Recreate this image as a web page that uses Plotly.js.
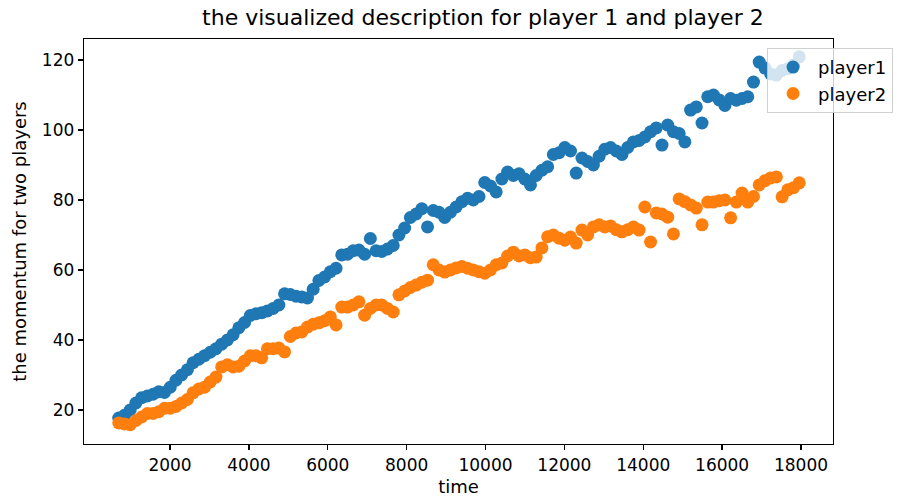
<!DOCTYPE html>
<html>
<head>
<meta charset="utf-8">
<script src="https://cdn.plot.ly/plotly-3.0.1.min.js"></script>
<style>html,body{margin:0;padding:0;background:#fff;}#chart{width:906px;height:502px;}</style>
</head>
<body>
<div id="chart"></div>
<script>
const time = [700,845,990,1135,1280,1425,1570,1715,1860,2005,2150,2295,2440,2585,2730,2875,3020,3165,3310,3455,3600,3745,3890,4035,4180,4325,4470,4615,4760,4905,5050,5195,5340,5485,5630,5775,5920,6065,6210,6355,6500,6645,6790,6935,7080,7225,7370,7515,7660,7805,7950,8095,8240,8385,8530,8675,8820,8965,9110,9255,9400,9545,9690,9835,9980,10125,10270,10415,10560,10705,10850,10995,11140,11285,11430,11575,11720,11865,12010,12155,12300,12445,12590,12735,12880,13025,13170,13315,13460,13605,13750,13895,14040,14185,14330,14475,14620,14765,14910,15055,15200,15345,15490,15635,15780,15925,16070,16215,16360,16505,16650,16795,16940,17085,17230,17375,17520,17665,17810,17955];

const player1 = [17.7,18.5,20,22,23.5,24,24.5,25.2,25,26.5,28.5,30,31.5,33.5,34.5,35.5,36.5,37.5,38.8,40,41.5,43.5,45,47,47.5,47.8,48.3,49,50,53.2,53,52.5,52.3,52,54.5,57,58,59.5,60.5,64.3,64.5,65.5,65.7,64.5,69,65.5,65.3,66,67,70,72,75,76,77.5,72.3,77,76.5,75,76.5,78,79.5,80.5,80,81,85,84,82.3,86,88,87,87.5,86,84.3,87,88.5,89.5,93,93.5,95,94,87.7,92,91,90,92.5,94.5,95,94,93,95,96.6,97,98,99.5,100.6,95.7,101.4,99.5,99,96.6,105.7,106.6,102,109.5,110,108.6,107,109,108.5,109,109.5,113.7,119.4,117.7,116,115.7,117,117.5,118.6,120.9];

const player2 = [16.3,16,15.8,17,18,19,19,19.5,20.5,20.5,21,22,23,24.9,26,26.5,28,29.4,32.3,32.9,32.3,32.5,34,35.5,35.5,34.9,37.5,37.5,37.7,36.6,41,42,42.3,43.7,44.5,44.9,45.5,46.6,44.3,49.4,49.4,50,50.9,47.1,49,50,50,49,48,52.9,54,55,55.7,56.5,57.1,61.5,60,59.4,60,60.6,61,60.5,60,59.5,59.1,60,61.5,62,64,65.1,64,64.3,63.5,63.7,66.3,69.5,70,69.1,68.5,69.4,67.7,71.4,70,72.3,72.9,72.3,72.6,71.5,70.9,71.5,72.3,71.4,78,68,76.3,76,75.1,70.3,80.3,79.5,78.6,77.7,72.9,79.4,79.4,79.8,80,74.9,79.4,82,79.4,81,84.3,85.5,86.3,86.6,80.9,82.9,83.5,84.9];

const seriesNames = ["player1", "player2"];
const xTicks = [2000,4000,6000,8000,10000,12000,14000,16000,18000];
const yTicks = [20,40,60,80,100,120];

const font = "DejaVu Sans, sans-serif";
const traces = [
  {x: time, y: player1, name: seriesNames[0], type: "scatter", mode: "markers",
   marker: {color: "#1f77b4", size: 13}},
  {x: time, y: player2, name: seriesNames[1], type: "scatter", mode: "markers",
   marker: {color: "#ff7f0e", size: 13}}
];
const axisCommon = {
  showline: true, mirror: true, linecolor: "#000", linewidth: 1.3,
  showgrid: false, zeroline: false, ticks: "outside", ticklen: 5, tickwidth: 1.3,
  tickcolor: "#000", tickfont: {family: font, size: 17, color: "#000"}
};
const layout = {
  width: 906, height: 502,
  margin: {l: 84, r: 73, t: 39, b: 58},
  paper_bgcolor: "#fff", plot_bgcolor: "#fff",
  title: {text: "the visualized description for player 1 and player 2",
          font: {family: font, size: 22, color: "#000"},
          x: 0.533, xref: "container", xanchor: "center", y: 0.965, yanchor: "middle"},
  xaxis: Object.assign({}, axisCommon, {
    range: [-181, 18811], tickvals: xTicks, ticktext: xTicks.map(String),
    title: {text: "time", font: {family: font, size: 18, color: "#000"}, standoff: 6}
  }),
  yaxis: Object.assign({}, axisCommon, {
    range: [10.29, 126], tickvals: yTicks, ticktext: yTicks.map(String),
    title: {text: "the momentum for two players", font: {family: font, size: 18, color: "#000"}, standoff: 10}
  }),
  showlegend: true,
  legend: {x: 0.912, y: 0.978, xanchor: "left", yanchor: "top", itemwidth: 40,
           bgcolor: "rgba(255,255,255,0.8)", bordercolor: "rgba(204,204,204,0.9)", borderwidth: 1,
           font: {family: font, size: 18, color: "#000"}, tracegroupgap: 4}
};
Plotly.newPlot("chart", traces, layout, {displayModeBar: false, staticPlot: true});
</script>
</body>
</html>
